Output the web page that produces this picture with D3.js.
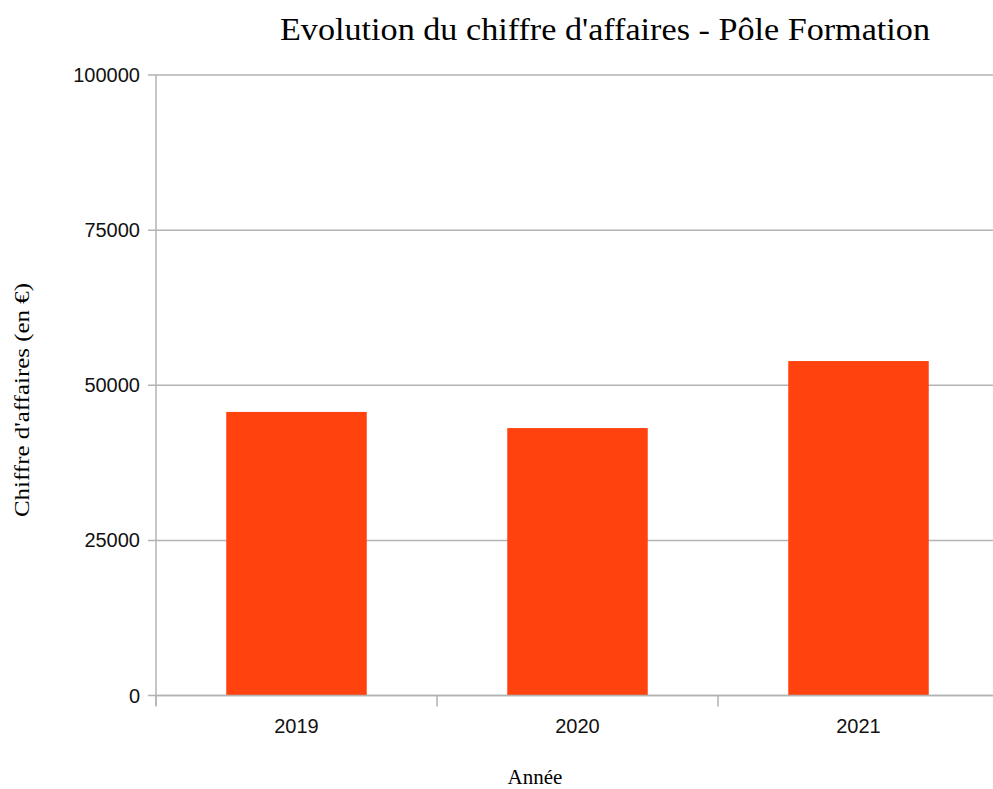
<!DOCTYPE html>
<html>
<head>
<meta charset="utf-8">
<script src="https://cdn.jsdelivr.net/npm/d3@7"></script>
<style>
body { margin: 0; background: #fff; }
</style>
</head>
<body>
<svg id="chart"></svg>
<script>
var years = ["2019", "2020", "2021"];
var ca = [45700, 43100, 53900];
var yTicks = [0, 25000, 50000, 75000, 100000];

var W = 993, H = 789;
var mLeft = 156, mRight = 999, mTop = 75, mBottom = 695.5;
var grid = "#b3b3b3";

var svg = d3.select("#chart").attr("width", W).attr("height", H);

var x = d3.scaleBand().domain(years).range([mLeft, mRight]).paddingInner(0).paddingOuter(0);
var y = d3.scaleLinear().domain([0, 100000]).range([mBottom, mTop]);

// grille horizontale
svg.append("g").selectAll("line").data(yTicks).enter().append("line")
	.attr("x1", mLeft - 8).attr("x2", mRight)
	.attr("y1", function(d) { return y(d); })
	.attr("y2", function(d) { return y(d); })
	.attr("stroke", grid).attr("stroke-width", 1.5);

// barres
svg.append("g").selectAll("rect").data(ca).enter().append("rect")
	.attr("x", function(d, i) { return x(years[i]) + x.bandwidth() / 4; })
	.attr("width", x.bandwidth() / 2)
	.attr("y", function(d) { return y(d); })
	.attr("height", function(d) { return y(0) - y(d); })
	.attr("fill", "#ff420e");

// axe y
svg.append("line").attr("x1", mLeft).attr("x2", mLeft).attr("y1", mTop).attr("y2", mBottom + 10)
	.attr("stroke", grid).attr("stroke-width", 1.5);

svg.append("g").selectAll("text").data(yTicks).enter().append("text")
	.attr("x", mLeft - 16)
	.attr("y", function(d) { return y(d) + 7; })
	.attr("text-anchor", "end")
	.attr("font-family", "Liberation Sans, Arial, sans-serif")
	.attr("font-size", 20)
	.attr("fill", "#111")
	.text(function(d) { return d; });

// axe x
svg.append("line").attr("x1", mLeft).attr("x2", mRight).attr("y1", y(0)).attr("y2", y(0))
	.attr("stroke", grid).attr("stroke-width", 1.5);

var xb = years.map(function(d) { return x(d); }).concat([mRight]);
svg.append("g").selectAll("line").data(xb).enter().append("line")
	.attr("x1", function(d) { return d; }).attr("x2", function(d) { return d; })
	.attr("y1", y(0)).attr("y2", y(0) + 11)
	.attr("stroke", grid).attr("stroke-width", 1.5);

svg.append("g").selectAll("text").data(years).enter().append("text")
	.attr("x", function(d) { return x(d) + x.bandwidth() / 2; })
	.attr("y", 733)
	.attr("text-anchor", "middle")
	.attr("font-family", "Liberation Sans, Arial, sans-serif")
	.attr("font-size", 20)
	.attr("fill", "#111")
	.text(function(d) { return d; });

// titres
svg.append("text")
	.attr("x", 605).attr("y", 40)
	.attr("text-anchor", "middle")
	.attr("font-family", "Liberation Serif, Times New Roman, serif")
	.attr("font-size", 31)
	.attr("textLength", 650).attr("lengthAdjust", "spacingAndGlyphs")
	.attr("fill", "#000")
	.text("Evolution du chiffre d'affaires - Pôle Formation");

svg.append("text")
	.attr("transform", "translate(29,400) rotate(-90)")
	.attr("text-anchor", "middle")
	.attr("font-family", "Liberation Serif, Times New Roman, serif")
	.attr("font-size", 21)
	.attr("textLength", 234).attr("lengthAdjust", "spacingAndGlyphs")
	.attr("fill", "#000")
	.text("Chiffre d'affaires (en €)");

svg.append("text")
	.attr("x", 535).attr("y", 784)
	.attr("text-anchor", "middle")
	.attr("font-family", "Liberation Serif, Times New Roman, serif")
	.attr("font-size", 21)
	.attr("fill", "#000")
	.text("Année");
</script>
</body>
</html>
